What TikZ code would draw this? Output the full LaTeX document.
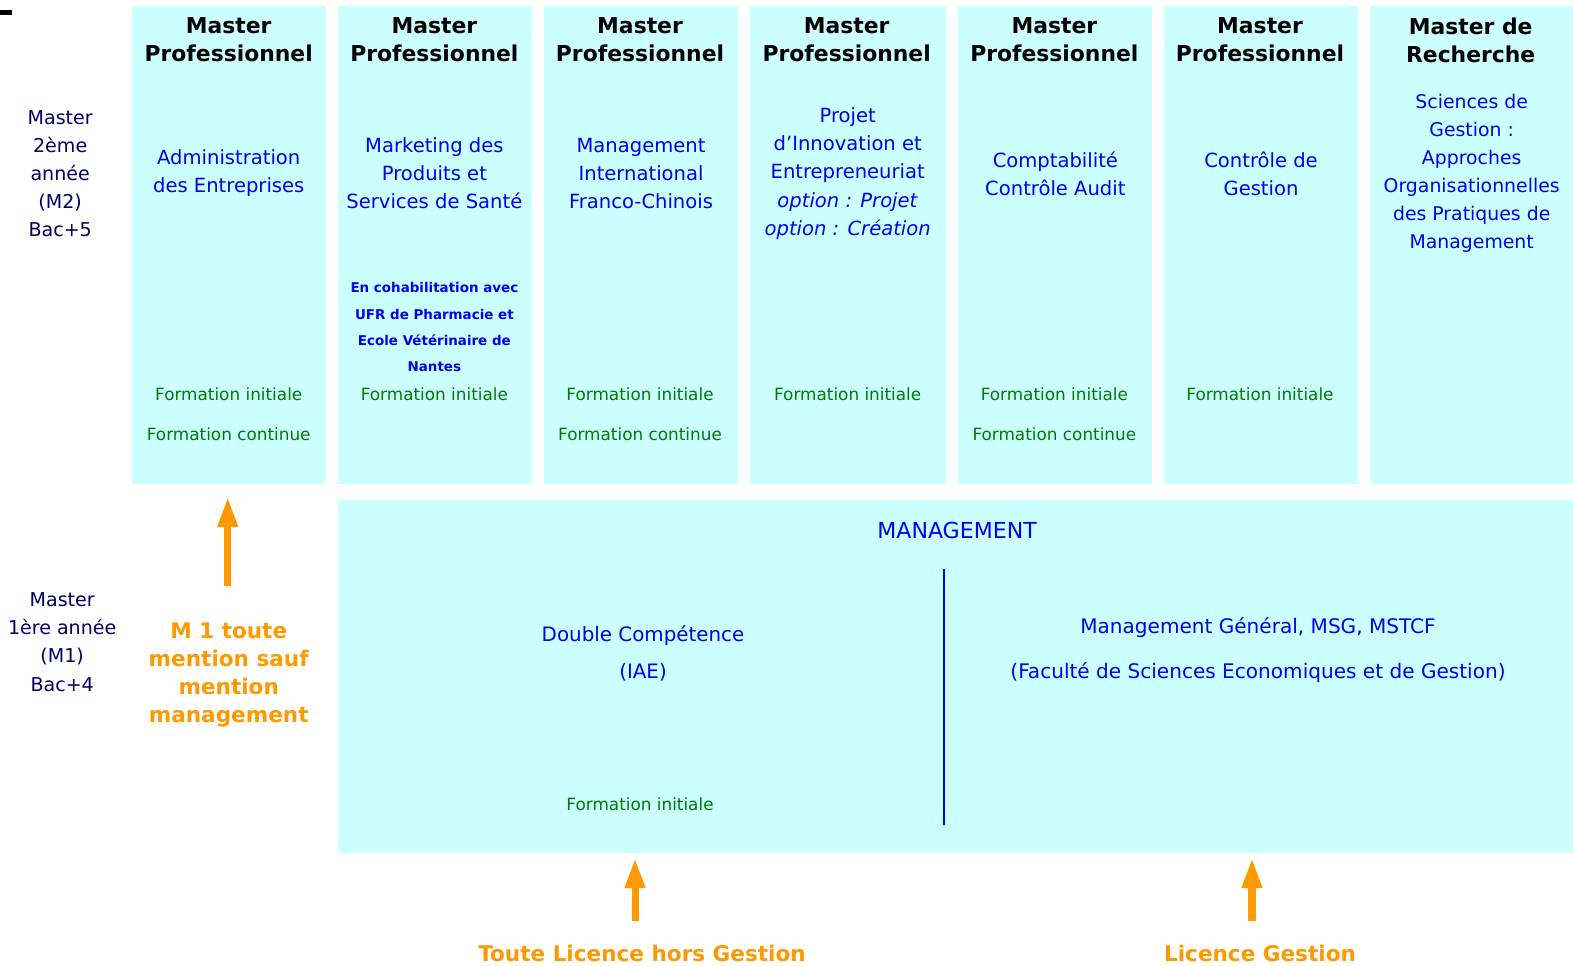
\documentclass[tikz,border=0pt]{standalone}
\usepackage{fontspec}
\setmainfont{DejaVu Sans}
\usepackage{xcolor}
\usepackage{tikz}
\usetikzlibrary{arrows.meta}

\definecolor{boxcyan}{HTML}{CCFFFF}
\definecolor{txtblue}{HTML}{0000EE}
\definecolor{txtgreen}{HTML}{007A00}
\definecolor{txtorange}{HTML}{FF9900}
\definecolor{txtnavy}{HTML}{000066}

\tikzset{
	colbox/.style={fill=boxcyan, draw=none, inner sep=0pt, anchor=north west, minimum height=476pt},
	headtxt/.style={black, align=center, inner sep=0pt, font=\fontsize{21.8}{28}\selectfont\bfseries},
	progtxt/.style={txtblue, align=center, inner sep=0pt, font=\fontsize{19.5}{28}\selectfont},
	smalltxt/.style={txtblue, align=center, inner sep=0pt, font=\fontsize{13.4}{26}\selectfont\bfseries},
	formtxt/.style={txtgreen, inner sep=0pt, font=\fontsize{16.8}{20}\selectfont},
	yeartxt/.style={txtnavy, align=center, inner sep=0pt, font=\fontsize{19}{28}\selectfont},
	accesstxt/.style={txtorange, align=center, inner sep=0pt, font=\fontsize{21.5}{28}\selectfont\bfseries},
	uparrow/.style={draw=txtorange, line width=7pt, -{Triangle[length=30pt,width=19pt]}}
}

\begin{document}
\begin{tikzpicture}[x=1pt, y=-1pt]
			\useasboundingbox (0,0) rectangle (1568,962);
			\fill[black] (0,10) rectangle (12,15);
			% M2 columns
			\node[colbox, minimum width=194pt] (admin) at (131,6) {};
			\node[colbox, minimum width=193pt] (mkt) at (337,6) {};
			\node[colbox, minimum width=193pt] (mic) at (542,6) {};
			\node[colbox, minimum width=196pt] (pie) at (747,6) {};
			\node[colbox, minimum width=193pt] (cca) at (955,6) {};
			\node[colbox, minimum width=193pt] (cg) at (1160,6) {};
			\node[colbox, minimum width=203pt] (rech) at (1365,6) {};
			% M1 box
			\node[colbox, minimum width=1231pt, minimum height=352pt] (mgmt) at (337,498) {};
			\node[yeartxt] (m2) at (60,173) {Master\\2ème\\année\\(M2)\\Bac+5};
			\node[yeartxt] (m1) at (62,640) {Master\\1ère année\\(M1)\\Bac+4};
			\node[headtxt] (h1) at (228,40) {Master\\Professionnel};
			\node[headtxt] (h2) at (433,40) {Master\\Professionnel};
			\node[headtxt] (h3) at (638,40) {Master\\Professionnel};
			\node[headtxt] (h4) at (844,40) {Master\\Professionnel};
			\node[headtxt] (h5) at (1051,40) {Master\\Professionnel};
			\node[headtxt] (h6) at (1256,40) {Master\\Professionnel};
			\node[headtxt] (h7) at (1466,40) {Master de\\Recherche};
			\node[progtxt] (p1) at (228,173) {Administration\\des Entreprises};
			\node[progtxt] (p2) at (433,173) {Marketing des\\Produits et\\Services de Santé};
			\node[progtxt] (p3) at (639,173) {Management\\International\\Franco-Chinois};
			\node[progtxt] (p4) at (845,173) {Projet\\d'Innovation et\\Entrepreneuriat\\\textit{option : Projet}\\\textit{option : Création}};
			\node[progtxt] (p5) at (1052,173) {Comptabilité\\Contrôle Audit};
			\node[progtxt] (p6) at (1257,173) {Contrôle de\\Gestion};
			\node[progtxt, font=\fontsize{18.8}{28}\selectfont] (p7) at (1467,173) {Sciences de\\Gestion :\\Approches\\Organisationnelles\\des Pratiques de\\Management};
			\node[smalltxt] (cohab) at (433,326) {En cohabilitation avec\\UFR de Pharmacie et\\Ecole Vétérinaire de\\Nantes};
			\node[formtxt] (fi1) at (228,393) {Formation initiale};
			\node[formtxt] (fi2) at (433,393) {Formation initiale};
			\node[formtxt] (fi3) at (638,393) {Formation initiale};
			\node[formtxt] (fi4) at (845,393) {Formation initiale};
			\node[formtxt] (fi5) at (1051,393) {Formation initiale};
			\node[formtxt] (fi6) at (1256,393) {Formation initiale};
			\node[formtxt] (fc1) at (228,433) {Formation continue};
			\node[formtxt] (fc3) at (638,433) {Formation continue};
			\node[formtxt] (fc5) at (1051,433) {Formation continue};
			% M1 contents
			\node[progtxt, font=\fontsize{22}{28}\selectfont] (mtitle) at (954,529) {MANAGEMENT};
			\node[progtxt, font=\fontsize{19.8}{37}\selectfont] (dc) at (641,651) {Double Compétence\\(IAE)};
			\node[progtxt, font=\fontsize{20}{44}\selectfont] (mg) at (1254,648) {Management Général, MSG, MSTCF\\(Faculté de Sciences Economiques et de Gestion)};
			\node[formtxt] (fi7) at (638,802) {Formation initiale};
			\coordinate (sep1) at (941,567);
			\coordinate (sep2) at (941,822);
			\draw[draw=txtblue, line width=2pt] (sep1) -- (sep2);
			% access
			\node[accesstxt] (acc1) at (228,673) {M 1 toute\\mention sauf\\mention\\management};
			\node[accesstxt] (acc2) at (640,950) {Toute Licence hors Gestion};
			\node[accesstxt] (acc3) at (1256,950) {Licence Gestion};
			\coordinate (a1) at (227,584);
			\coordinate (a2) at (633,918);
			\coordinate (a3) at (1248,918);
			\draw[uparrow, shorten >=13pt] (a1) -- (a1 |- admin.south);
			\draw[uparrow, shorten >=5pt] (a2) -- (a2 |- mgmt.south);
			\draw[uparrow, shorten >=5pt] (a3) -- (a3 |- mgmt.south);
		\end{tikzpicture}
\end{document}
